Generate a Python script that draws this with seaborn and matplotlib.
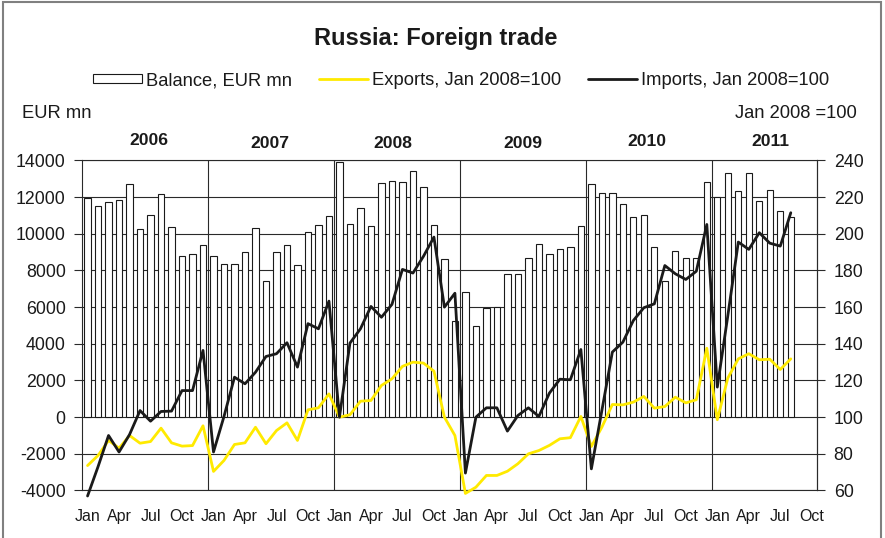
import numpy as np
import pandas as pd
import matplotlib
matplotlib.use("Agg")
import matplotlib.pyplot as plt
from matplotlib.patches import Patch, Rectangle
from matplotlib.lines import Line2D
import seaborn as sns

# ---- data -------------------------------------------------------------
years = [2006, 2007, 2008, 2009, 2010, 2011]
tick_months = ["Jan", "Apr", "Jul", "Oct"]

# Trade balance, EUR mn (Jan 2006 - Aug 2011)
balance = [
    11950, 11500, 11750, 11850, 12700, 10250, 11000, 12150, 10350, 8800, 8900, 9400,
    8800, 8350, 8350, 9000, 10300, 7450, 9000, 9400, 8300, 10100, 10500, 10950,
    13900, 10550, 11400, 10400, 12750, 12900, 12800, 13450, 12550, 10500, 8600, 5250,
    6850, 4950, 5950, 6000, 7800, 7800, 8700, 9450, 8900, 9150, 9300, 10450,
    12700, 12200, 12250, 11650, 10900, 11050, 9300, 7450, 9050, 8700, 8700, 12800,
    12000, 13300, 12350, 13300, 11800, 12400, 11250, 10900,
]

# Exports index, Jan 2008 = 100
exports = [
    73.6, 79.1, 87.3, 83.1, 90.0, 85.8, 86.7, 94.0, 86.0, 84.2, 84.5, 95.3,
    70.4, 76.4, 85.1, 86.0, 94.5, 85.5, 92.7, 96.9, 87.3, 104.0, 105.1, 112.7,
    100.0, 101.3, 108.7, 109.1, 117.3, 120.9, 127.7, 130.0, 129.5, 125.1, 100.0, 90.0,
    58.4, 61.8, 68.2, 68.2, 70.5, 74.6, 80.0, 81.8, 84.6, 88.2, 88.8, 100.4,
    84.0, 94.5, 106.9, 106.7, 108.2, 111.3, 104.9, 105.8, 110.9, 107.8, 109.5, 137.6,
    98.6, 121.3, 131.8, 134.6, 131.3, 131.6, 126.0, 131.8,
]

# Imports index, Jan 2008 = 100
imports = [
    57.0, 73.0, 90.0, 81.0, 90.5, 103.6, 97.8, 103.1, 103.3, 114.5, 114.5, 136.4,
    81.0, 100.4, 121.8, 118.2, 124.5, 133.1, 134.6, 140.6, 127.3, 151.0, 148.2, 163.3,
    100.0, 140.4, 148.2, 160.4, 154.5, 161.5, 180.6, 178.6, 187.7, 198.2, 160.0, 167.6,
    69.5, 100.0, 105.1, 105.1, 92.4, 100.9, 105.1, 100.4, 113.1, 120.7, 120.4, 136.9,
    71.8, 103.6, 135.5, 140.9, 152.7, 159.7, 161.8, 182.7, 178.2, 175.1, 179.6, 205.1,
    116.4, 155.3, 195.5, 191.5, 200.6, 194.9, 193.3, 211.5,
]

n_slots = 70  # Jan 2006 .. Oct 2011 on the category axis
n = len(balance)
df = pd.DataFrame({
    "pos": np.arange(n),
    "balance": balance,
    "exports": exports,
    "imports": imports,
})

# ---- style ------------------------------------------------------------
sns.set_theme(style="white")
plt.rcParams["font.family"] = ["Liberation Sans", "DejaVu Sans"]
plt.rcParams["axes.unicode_minus"] = False
INK = "#1a1a1a"
YELLOW = "#FFEA00"

fig = plt.figure(figsize=(8.85, 5.38), dpi=100)
fig.patch.set_facecolor("white")
ax = fig.add_axes([0.0930, 0.0883, 0.8302, 0.6134])

# balance bars on the left axis
sns.barplot(data=df, x="pos", y="balance", native_scale=True, orient="x",
            color="white", saturation=1, edgecolor=INK, linewidth=0.8,
            width=0.6, errorbar=None, ax=ax, zorder=2)

ax.set_xlim(-0.5, n_slots - 0.5)
ax.set_ylim(-4000, 14000)
yticks = list(range(-4000, 14001, 2000))
ax.set_yticks(yticks)
ax.set_yticklabels([str(t) for t in yticks])
ax.set_xticks(np.arange(0, n_slots, 3))
ax.set_xticklabels(tick_months * len(years))
ax.set_xticks(np.arange(11.5, n_slots - 1, 12), minor=True)
ax.set_xlabel("")
ax.set_ylabel("")
ax.set_axisbelow(True)
ax.grid(axis="y", which="major", color="#2a2a2a", lw=0.8)
ax.grid(axis="x", which="minor", color="#2a2a2a", lw=0.8)
ax.grid(axis="x", which="major", visible=False)
for s in ax.spines.values():
    s.set_visible(True)
    s.set_color("#2a2a2a")
    s.set_linewidth(0.8)
ax.tick_params(axis="y", left=True, length=6, width=0.8, color="#2a2a2a",
               direction="out", pad=6, labelsize=12.8, labelcolor=INK)
ax.tick_params(axis="x", which="both", bottom=False, length=0, pad=13,
               labelsize=11.5, labelcolor=INK)

# export / import indices on the right axis
ax2 = ax.twinx()
sns.lineplot(data=df, x="pos", y="exports", color=YELLOW, lw=2.0,
             errorbar=None, ax=ax2, clip_on=False, zorder=3)
sns.lineplot(data=df, x="pos", y="imports", color=INK, lw=2.0,
             errorbar=None, ax=ax2, clip_on=False, zorder=4)
ax2.set_xlim(-0.5, n_slots - 0.5)
ax2.set_ylim(60, 240)
rticks = list(range(60, 241, 20))
ax2.set_yticks(rticks)
ax2.set_yticklabels([str(t) for t in rticks])
ax2.set_ylabel("")
ax2.set_xlabel("")
ax2.grid(False)
for s in ax2.spines.values():
    s.set_visible(False)
ax2.spines["right"].set_visible(True)
ax2.spines["right"].set_color("#2a2a2a")
ax2.spines["right"].set_linewidth(0.8)
ax2.tick_params(axis="y", right=True, length=6, width=0.8, color="#2a2a2a",
                direction="out", pad=6, labelsize=12.8, labelcolor=INK)

# ---- titles, legend and annotations -------------------------------------
W, H = 885.0, 538.0
def fx(px):
    return px / W
def fy(py):
    return 1 - py / H

fig.text(fx(436), fy(38), "Russia: Foreign trade", ha="center", va="center",
         fontsize=17, fontweight="bold", color=INK)

handles = [
    Patch(facecolor="white", edgecolor=INK, linewidth=0.8),
    Line2D([], [], color=YELLOW, lw=2.0),
    Line2D([], [], color=INK, lw=2.0),
]
labels = ["Balance, EUR mn", "Exports, Jan 2008=100", "Imports, Jan 2008=100"]
fig.legend(handles, labels, loc="center", bbox_to_anchor=(fx(461), fy(80.5)),
           ncol=3, frameon=False, fontsize=13.2, handlelength=2.65,
           handleheight=0.45, handletextpad=0.22, columnspacing=1.5,
           borderpad=0, borderaxespad=0, labelcolor=INK)

fig.text(fx(21.7), fy(113.3), "EUR mn", ha="left", va="center",
         fontsize=13.2, color=INK)
fig.text(fx(857), fy(113.3), "Jan 2008 =100", ha="right", va="center",
         fontsize=13.2, color=INK)

year_x = [148.8, 270.3, 393.0, 522.5, 646.7, 770.3]
year_y = [140.5, 144.0, 143.0, 144.0, 141.5, 141.5]
for yr, px, py in zip(years, year_x, year_y):
    fig.text(fx(px), fy(py), str(yr), ha="center", va="center",
             fontsize=12.6, fontweight="bold", color=INK)

# outer frame
fig.patches.append(Rectangle((fx(2.5), -0.01), fx(878), fy(2) + 0.01,
                             transform=fig.transFigure, fill=False,
                             edgecolor="#808080", lw=1.5))

fig.savefig("out.png", dpi=100, facecolor="white")
